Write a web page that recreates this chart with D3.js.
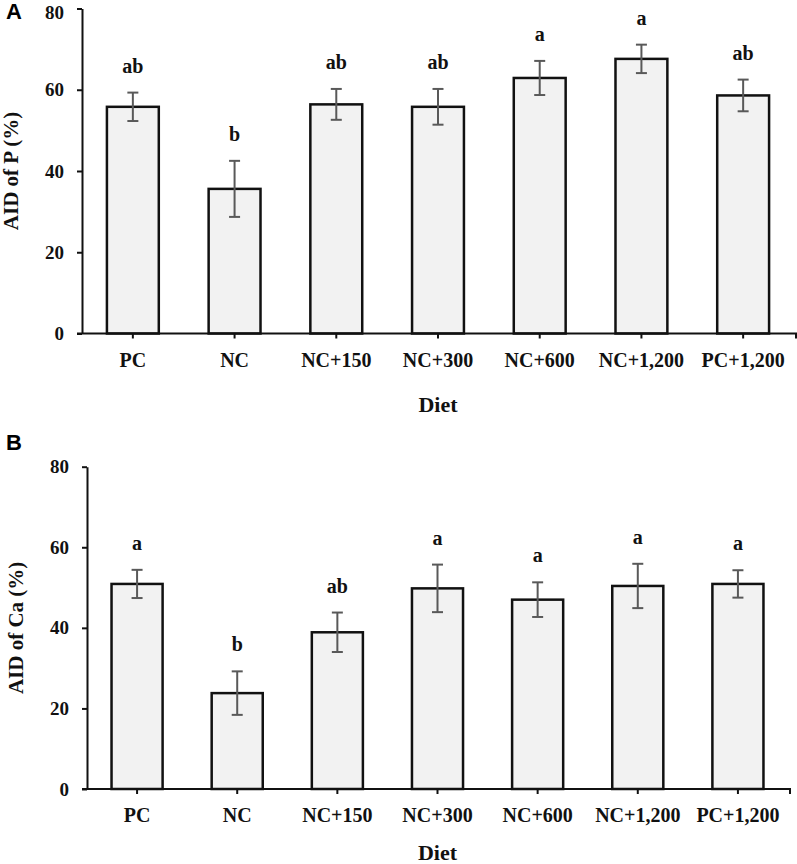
<!DOCTYPE html>
<html>
<head>
<meta charset="utf-8">
<script src="https://cdn.jsdelivr.net/npm/d3@7"></script>
<style>
  body { margin: 0; background: #fff; }
  svg { display: block; }
</style>
</head>
<body>
<svg id="chart" width="797" height="864"></svg>
<script>
const categories = ["PC", "NC", "NC+150", "NC+300", "NC+600", "NC+1,200", "PC+1,200"];
const yTicks = [0, 20, 40, 60, 80];

// Panel A: AID of P (%)
const pMeans = [55.8, 35.6, 56.4, 55.8, 62.9, 67.6, 58.6];
const pErrors = [3.5, 6.9, 3.8, 4.4, 4.2, 3.5, 3.9];
const pLetters = ["ab", "b", "ab", "ab", "a", "a", "ab"];

// Panel B: AID of Ca (%)
const caMeans = [50.9, 23.8, 38.9, 49.8, 47.0, 50.4, 50.9];
const caErrors = [3.5, 5.4, 4.9, 5.9, 4.3, 5.5, 3.4];
const caLetters = ["a", "b", "ab", "a", "a", "a", "a"];

const svg = d3.select("#chart");
const serif = "'Liberation Serif', 'Times New Roman', serif";

function drawPanel(cfg) {
  const x = d3.scaleBand().domain(categories).range([cfg.left, cfg.right]).paddingInner(0.49).paddingOuter(0.245);
  const y = d3.scaleLinear().domain([0, 80]).range([cfg.bottom, cfg.top]);
  const g = svg.append("g");
  const data = categories.map((c, i) => ({c, v: cfg.means[i], e: cfg.errors[i], l: cfg.letters[i]}));

  // bars
  g.selectAll("rect.bar").data(data).enter().append("rect")
    .attr("x", d => x(d.c)).attr("y", d => y(d.v))
    .attr("width", x.bandwidth()).attr("height", d => y(0) - y(d.v))
    .attr("fill", "#f2f2f2").attr("stroke", "#111").attr("stroke-width", 2.5);

  // error bars
  const cx = d => x(d.c) + x.bandwidth() / 2;
  const eg = g.append("g").attr("stroke", "#595959").attr("stroke-width", 2);
  eg.selectAll("line.v").data(data).enter().append("line")
    .attr("x1", cx).attr("x2", cx).attr("y1", d => y(d.v + d.e)).attr("y2", d => y(d.v - d.e));
  eg.selectAll("line.t").data(data).enter().append("line")
    .attr("x1", d => cx(d) - 5.5).attr("x2", d => cx(d) + 5.5).attr("y1", d => y(d.v + d.e)).attr("y2", d => y(d.v + d.e));
  eg.selectAll("line.b").data(data).enter().append("line")
    .attr("x1", d => cx(d) - 5.5).attr("x2", d => cx(d) + 5.5).attr("y1", d => y(d.v - d.e)).attr("y2", d => y(d.v - d.e));

  // letters
  g.selectAll("text.letter").data(data).enter().append("text")
    .attr("x", cx).attr("y", d => y(d.v + d.e) - 20)
    .attr("text-anchor", "middle").attr("font-family", serif).attr("font-weight", "bold")
    .attr("font-size", 20).attr("fill", "#111").text(d => d.l);

  // y axis
  const ya = g.append("g").attr("transform", `translate(${cfg.left},0)`)
    .call(d3.axisLeft(y).tickValues(yTicks).tickSize(5).tickPadding(13).tickSizeOuter(0));
  ya.select(".domain").attr("stroke", "#111").attr("stroke-width", 2);
  ya.selectAll(".tick line").attr("stroke", "#111").attr("stroke-width", 2);
  ya.selectAll(".tick text").attr("font-family", serif).attr("font-weight", "bold")
    .attr("font-size", 19).attr("fill", "#111")
    .attr("dy", d => (y(d) < 12 ? `${12 - y(d) + 6}px` : "0.32em"));

  // x axis
  const xa = g.append("g").attr("transform", `translate(0,${cfg.bottom})`)
    .call(d3.axisBottom(x).tickSize(5).tickPadding(14).tickSizeOuter(0));
  xa.select(".domain").attr("stroke", "#111").attr("stroke-width", 2)
    .attr("d", `M${cfg.left - 5},0H${cfg.right + 2}V5`);
  xa.selectAll(".tick line").attr("stroke", "#111").attr("stroke-width", 2);
  xa.selectAll(".tick text").attr("font-family", serif).attr("font-weight", "bold")
    .attr("font-size", 20).attr("fill", "#111");

  // axis titles
  g.append("text").attr("x", (cfg.left + cfg.right) / 2).attr("y", cfg.bottom + cfg.xTitleDy)
    .attr("text-anchor", "middle").attr("font-family", serif).attr("font-weight", "bold")
    .attr("font-size", 22).attr("fill", "#111").text("Diet");
  g.append("text")
    .attr("transform", `translate(${cfg.left - 64},${(cfg.top + cfg.bottom) / 2}) rotate(-90)`)
    .attr("text-anchor", "middle").attr("font-family", serif).attr("font-weight", "bold")
    .attr("font-size", 21).attr("fill", "#111").text(cfg.yTitle);

  // panel letter
  svg.append("text").attr("x", 6).attr("y", cfg.panelY)
    .attr("font-family", "'Liberation Sans', Arial, sans-serif").attr("font-weight", "bold")
    .attr("font-size", 22).attr("fill", "#000").text(cfg.panel);
}

drawPanel({left: 82, right: 794, top: 8.5, bottom: 333.5, means: pMeans, errors: pErrors,
  letters: pLetters, yTitle: "AID of P (%)", panel: "A", panelY: 19, xTitleDy: 78});
drawPanel({left: 87, right: 788, top: 466.7, bottom: 789, means: caMeans, errors: caErrors,
  letters: caLetters, yTitle: "AID of Ca (%)", panel: "B", panelY: 450, xTitleDy: 71});
</script>
</body>
</html>
